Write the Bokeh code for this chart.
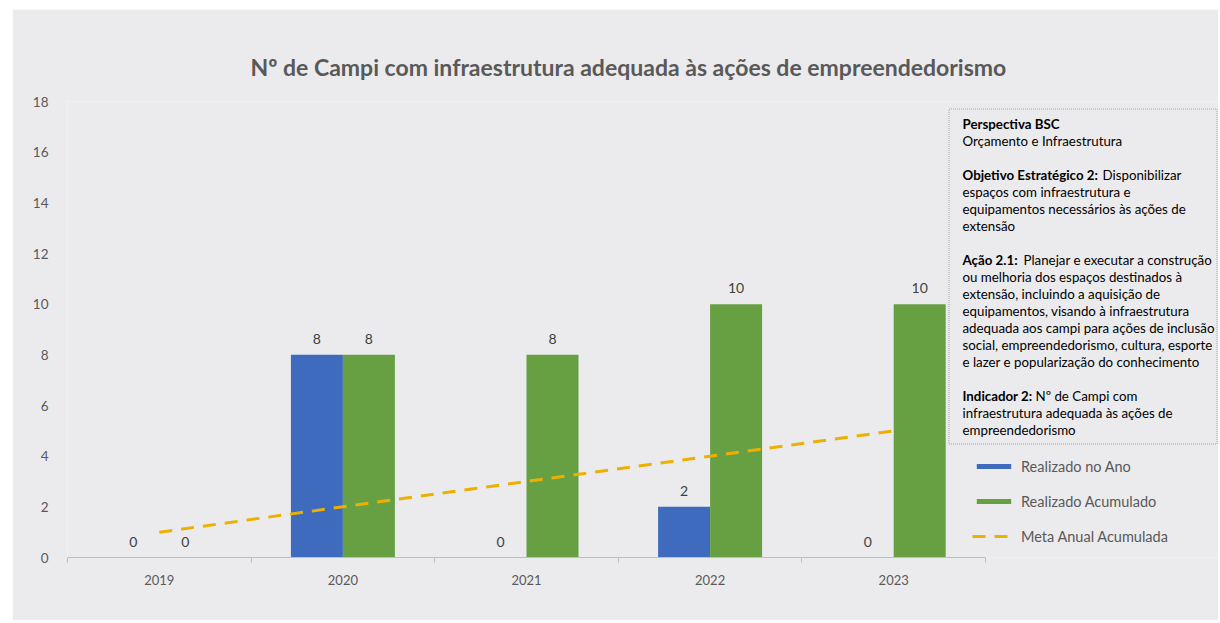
from bokeh.plotting import figure
from bokeh.models import (ColumnDataSource, LabelSet, Label, BoxAnnotation, Legend,
                          LegendItem, FixedTicker, Range1d)
from bokeh.core.properties import value
from bokeh.embed import file_html
from bokeh.resources import INLINE

# ---------------- data ----------------
years = ["2019", "2020", "2021", "2022", "2023"]
realizado_ano = [0, 8, 0, 2, 0]
realizado_acumulado = [0, 8, 8, 10, 10]
meta_anual_acumulada = [1, 2, 3, 4, 5]
y_ticks = [0, 2, 4, 6, 8, 10, 12, 14, 16, 18]

title_text = "Nº de Campi com infraestrutura adequada às ações de empreendedorismo"
box_lines = [
    ("Perspectiva BSC", "", 0),
    ("", "Orçamento e Infraestrutura", 1),
    ("Objetivo Estratégico 2:", "Disponibilizar", 3),
    ("", "espaços com infraestrutura e", 4),
    ("", "equipamentos necessários às ações de", 5),
    ("", "extensão", 6),
    ("Ação 2.1:", "Planejar e executar a construção", 8),
    ("", "ou melhoria dos espaços destinados à", 9),
    ("", "extensão, incluindo a aquisição de", 10),
    ("", "equipamentos, visando à infraestrutura", 11),
    ("", "adequada aos campi para ações de inclusão", 12),
    ("", "social, empreendedorismo, cultura, esporte", 13),
    ("", "e lazer e popularização do conhecimento", 14),
    ("Indicador 2:", "Nº de Campi com", 16),
    ("", "infraestrutura adequada às ações de", 17),
    ("", "empreendedorismo", 18),
]
bold_widths = {"Perspectiva BSC": 0, "Objetivo Estratégico 2:": 140,
               "Ação 2.1:": 61, "Indicador 2:": 73}

# ---------------- styling ----------------
BG = "#EBEBED"
BLUE = "#3E6BBD"
GREEN = "#67A043"
GOLD = "#EDB000"
TXT = "#595959"
FONT = "Lato"

# layout constants (page pixels)
FIG_LEFT, FIG_TOP = 12, 9
FRAME_L, FRAME_T, FRAME_B = 67, 101, 557
W, H = 1206, 611
FRAME_R = FIG_LEFT + W
CAT_PX = 183.6
YMAX = 18
PX_PER_Y = (FRAME_B - FRAME_T) / YMAX


def px_x(px):
    return (px - FRAME_L) / CAT_PX


def px_y(py):
    return (FRAME_B - py) / PX_PER_Y


p = figure(width=W, height=H, output_backend="svg", toolbar_location=None,
           x_range=Range1d(0, (FRAME_R - FRAME_L) / CAT_PX),
           y_range=Range1d(0, YMAX),
           min_border_left=FRAME_L - FIG_LEFT, min_border_right=0,
           min_border_top=FRAME_T - FIG_TOP,
           min_border_bottom=FIG_TOP + H - FRAME_B)
p.margin = (FIG_TOP, 0, 0, FIG_LEFT)
p.background_fill_color = BG
p.border_fill_color = BG
p.outline_line_color = None
p.grid.visible = False

p.title.text = title_text
p.title.align = "left"
p.title.offset = 250 - FRAME_L
p.title.text_font = FONT
p.title.text_font_size = "23px"
p.title.text_font_style = "bold"
p.title.text_color = TXT
p.title.standoff = 42

centers = [i + 0.5 for i in range(len(years))]
bw = 52 / CAT_PX
x_ano = [c - bw / 2 for c in centers]
x_acum = [c + bw / 2 for c in centers]

src = ColumnDataSource(dict(x_ano=x_ano, x_acum=x_acum, ano=realizado_ano,
                            acum=realizado_acumulado,
                            ano_lbl=[str(v) for v in realizado_ano],
                            acum_lbl=[str(v) for v in realizado_acumulado]))

r_ano = p.vbar(x="x_ano", top="ano", width=bw, source=src, fill_color=BLUE, line_color=None)
r_acum = p.vbar(x="x_acum", top="acum", width=bw, source=src, fill_color=GREEN, line_color=None)
r_meta = p.line(x=centers, y=meta_anual_acumulada, line_color=GOLD, line_width=3,
                line_dash="13 9")

for xcol, ycol, tcol in [("x_ano", "ano", "ano_lbl"), ("x_acum", "acum", "acum_lbl")]:
    p.add_layout(LabelSet(x=xcol, y=ycol, text=tcol, source=src, y_offset=16,
                          text_align="center", text_baseline="middle",
                          text_font=value(FONT), text_font_size=value("14px"),
                          text_color="#404040"))

# axes
p.yaxis.ticker = FixedTicker(ticks=y_ticks)
p.yaxis.axis_line_color = None
p.yaxis.major_tick_line_color = None
p.yaxis.minor_tick_line_color = None
p.yaxis.major_label_standoff = 13
p.yaxis.major_label_text_font = FONT
p.yaxis.major_label_text_font_size = "13.5px"
p.yaxis.major_label_text_color = TXT

p.xaxis.ticker = FixedTicker(ticks=centers, minor_ticks=list(range(len(years) + 1)))
p.xaxis.major_label_overrides = {c: y for c, y in zip(centers, years)}
p.xaxis.bounds = (0, len(years))
p.xaxis.axis_line_color = "#BFBFBF"
p.xaxis.major_tick_line_color = None
p.xaxis.major_tick_out = 0
p.xaxis.major_tick_in = 0
p.xaxis.minor_tick_line_color = "#BFBFBF"
p.xaxis.minor_tick_out = 5
p.xaxis.minor_tick_in = 0
p.xaxis.major_label_standoff = 12
p.xaxis.major_label_text_font = FONT
p.xaxis.major_label_text_font_size = "13px"
p.xaxis.major_label_text_color = TXT

# text box
p.add_layout(BoxAnnotation(left=px_x(948.5), right=px_x(FRAME_R - 1.5), top=px_y(108.5),
                           bottom=px_y(443.5), fill_alpha=0, line_color="#000000",
                           line_width=1, line_dash="1 1"))
for bold, normal, idx in box_lines:
    yy = px_y(123 + 17 * idx)
    xx = 962
    if bold:
        p.add_layout(Label(x=px_x(xx), y=yy, text=bold, text_font=FONT,
                           text_font_size="13.3px", text_font_style="bold",
                           text_color="#000000", text_baseline="middle"))
        xx += bold_widths[bold]
    if normal:
        p.add_layout(Label(x=px_x(xx), y=yy, text=normal, text_font=FONT,
                           text_font_size="13.3px", text_color="#000000",
                           text_baseline="middle"))

legend = Legend(items=[LegendItem(label="Realizado no Ano", renderers=[r_ano]),
                       LegendItem(label="Realizado Acumulado", renderers=[r_acum]),
                       LegendItem(label="Meta Anual Acumulada", renderers=[r_meta])],
                location=(972 - FRAME_L, FRAME_B - 546), orientation="vertical",
                glyph_width=43, glyph_height=6, label_height=20, spacing=15,
                label_standoff=6, padding=0, margin=0, border_line_color=None,
                background_fill_alpha=0, label_text_font=FONT,
                label_text_font_size="14.5px", label_text_color=TXT)
p.add_layout(legend)

open("out.html", "w").write(file_html(p, INLINE))
